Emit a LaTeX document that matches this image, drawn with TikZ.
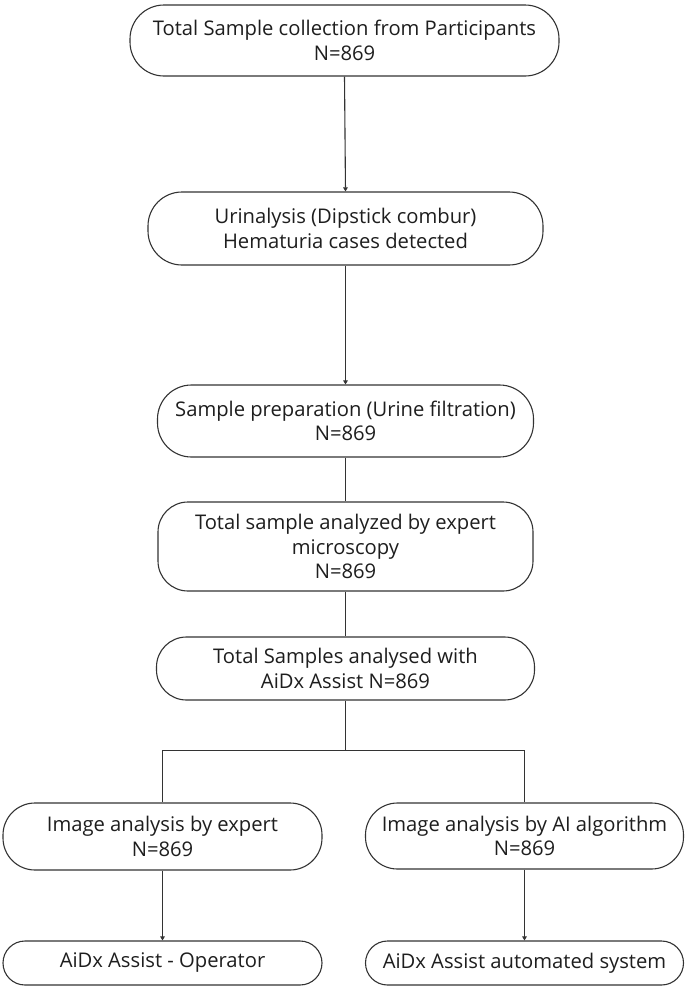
\documentclass[tikz,border=0pt]{standalone}
\usepackage{fontspec}
\setmainfont{Open Sans}
\usetikzlibrary{arrows.meta}
\definecolor{ln}{HTML}{333333}
\definecolor{tx}{HTML}{1E1E1E}
\begin{document}
\begin{tikzpicture}[x=1pt,y=-1pt,
  box/.style={draw=ln,line width=1.1pt,fill=white,inner sep=0pt,align=center,
    font=\fontsize{20.2}{24.5}\selectfont,text=tx},
  conn/.style={draw=ln,line width=1.1pt},
  arr/.style={conn,-{Triangle[length=4pt,width=4.5pt]}}]
\useasboundingbox (0,0) rectangle (685,986);
\node[box,rounded corners=34pt,minimum width=429pt,minimum height=71pt] (b1) at (344.5,40.5)
  {Total Sample collection from Participants\\N=869};
\node[box,rounded corners=34pt,minimum width=395pt,minimum height=73pt] (b2) at (345.5,228.5)
  {Urinalysis (Dipstick combur)\\Hematuria cases detected};
\node[box,rounded corners=34pt,minimum width=376pt,minimum height=72pt] (b3) at (345.5,421)
  {Sample preparation (Urine filtration)\\N=869};
\node[box,rounded corners=30pt,minimum width=375pt,minimum height=89pt] (b4) at (345.5,546.5)
  {Total sample analyzed by expert\\microscopy\\N=869};
\node[box,rounded corners=30pt,minimum width=378pt,minimum height=63pt] (b5) at (345.5,668.5)
  {Total Samples analysed with\\AiDx Assist N=869};
\node[box,rounded corners=32pt,minimum width=319pt,minimum height=67pt] (b6) at (162.5,836.5)
  {Image analysis by expert\\N=869};
\node[box,rounded corners=32pt,minimum width=318pt,minimum height=66pt] (b7) at (524.5,836)
  {Image analysis by AI algorithm\\N=869};
\node[box,rounded corners=22pt,minimum width=319pt,minimum height=44pt] (b8) at (162.5,963)
  {AiDx Assist - Operator};
\node[box,rounded corners=22pt,minimum width=318pt,minimum height=44pt] (b9) at (524.5,963)
  {AiDx Assist automated system};
\coordinate (j) at (345.5,750.5);
\draw[arr] (b1.south) -- (b2.north);
\draw[arr] (b2.south) -- (b3.north);
\draw[conn] (b3.south) -- (b4.north);
\draw[conn] (b4.south) -- (b5.north);
\draw[conn] (b5.south) -- (j);
\draw[conn] (b6.north) |- (j) -| (b7.north);
\draw[arr] (b6.south) -- (b8.north);
\draw[arr] (b7.south) -- (b9.north);
\end{tikzpicture}
\end{document}
